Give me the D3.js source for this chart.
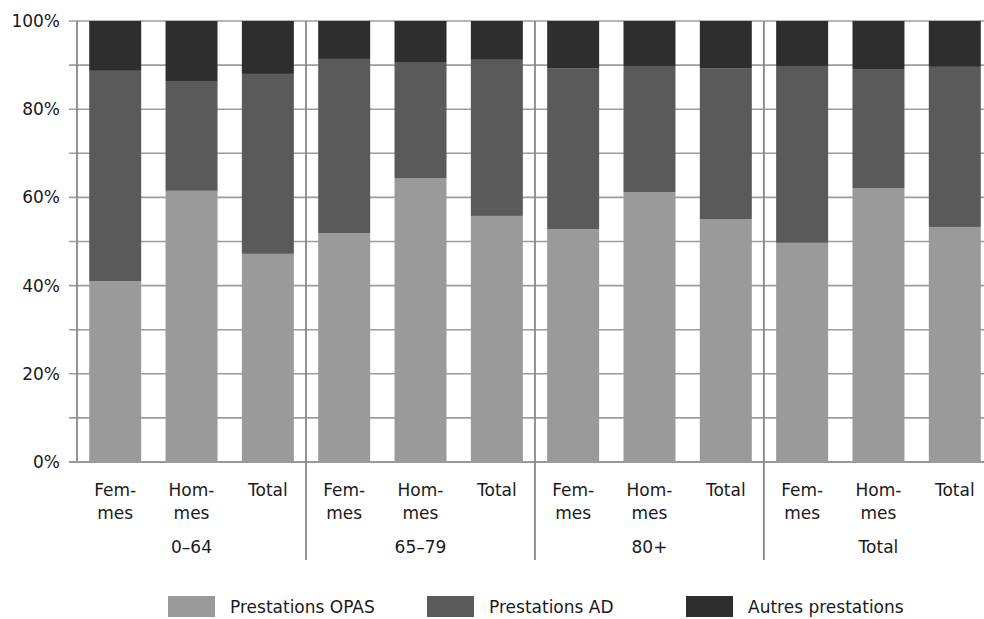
<!DOCTYPE html>
<html><head><meta charset="utf-8">
<script src="https://cdn.jsdelivr.net/npm/d3@7"></script>
<style>body{margin:0;background:#fff}svg{display:block}text{font-family:"DejaVu Sans",sans-serif;fill:#1a1a1a}</style>
</head><body>
<svg id="c" width="984" height="619"></svg>
<script>
const groups = ["0–64","65–79","80+","Total"];
const subs = [["Fem-","mes"],["Hom-","mes"],["Total"]];
const opas   = [41.0,61.5,47.2, 51.9,64.4,55.8, 52.8,61.2,55.1, 49.7,62.1,53.3];
const ad     = [47.7,24.9,40.8, 39.5,26.3,35.4, 36.5,28.6,34.2, 40.1,27.0,36.3];
const autres = [11.3,13.6,12.0,  8.6, 9.3, 8.8, 10.7,10.2,10.7, 10.2,10.9,10.4];
const seriesNames = ["Prestations OPAS","Prestations AD","Autres prestations"];
const colors = ["#9a9a9a","#5a5a5a","#2e2e2e"];
const yTicks = [0,20,40,60,80,100];

(function(){
const svg = d3.select("#c");
const pL = 77, pR = 993, pT = 21, pB = 462;
const fs = 17;
const ids = d3.range(12);
const x = d3.scaleBand().domain(ids).range([pL,pR]).paddingInner(0.319).paddingOuter(0.16);
const y = d3.scaleLinear().domain([0,100]).range([pB,pT]);

// gridlines
const grid = svg.append("g");
grid.selectAll("line").data(d3.range(0,101,10)).join("line")
  .attr("x1",pL-8).attr("x2",984).attr("y1",d=>y(d)).attr("y2",d=>y(d))
  .attr("stroke","#9c9c9c").attr("stroke-width",1.6);

// stacked bars
const rows = ids.map(i=>({i, opas:opas[i], ad:ad[i], autres:autres[i]}));
const stack = d3.stack().keys(["opas","ad","autres"])(rows);
svg.append("g").selectAll("g").data(stack).join("g").attr("fill",(d,k)=>colors[k])
  .selectAll("rect").data(d=>d).join("rect")
  .attr("x",d=>x(d.data.i)).attr("width",x.bandwidth())
  .attr("y",d=>y(d[1])).attr("height",d=>y(d[0])-y(d[1]));

// y axis line
svg.append("line").attr("x1",pL).attr("x2",pL).attr("y1",pT).attr("y2",pB)
  .attr("stroke","#888").attr("stroke-width",1.8);
// x axis line
svg.append("line").attr("x1",pL-8).attr("x2",984).attr("y1",pB).attr("y2",pB)
  .attr("stroke","#999").attr("stroke-width",1.8);

// group separators
const step = x.step();
svg.append("g").selectAll("line").data([1,2,3]).join("line")
  .attr("x1",g=>pL+g*3*step).attr("x2",g=>pL+g*3*step)
  .attr("y1",pT).attr("y2",560).attr("stroke","#888").attr("stroke-width",1.8);

// y labels
svg.append("g").selectAll("text").data(yTicks).join("text")
  .attr("x",60).attr("y",d=>y(d)+6).attr("text-anchor","end")
  .attr("font-size",fs).text(d=>d+"%");

// sub labels
const sl = svg.append("g");
ids.forEach(i=>{
  const s = subs[i%3];
  s.forEach((t,j)=>{
    sl.append("text").attr("x",x(i)+x.bandwidth()/2).attr("y",496+j*23)
      .attr("text-anchor","middle").attr("font-size",fs).text(t);
  });
});
// group labels
svg.append("g").selectAll("text").data(groups).join("text")
  .attr("x",(d,g)=>pL+(g*3+1.5)*step).attr("y",553)
  .attr("text-anchor","middle").attr("font-size",fs).text(d=>d);

// legend
const legX = [168,427,686];
const lg = svg.append("g");
seriesNames.forEach((n,k)=>{
  lg.append("rect").attr("x",legX[k]).attr("y",596).attr("width",47).attr("height",21).attr("fill",colors[k]);
  lg.append("text").attr("x",legX[k]+62).attr("y",613).attr("font-size",fs).text(n);
});
})();
</script>
</body></html>
